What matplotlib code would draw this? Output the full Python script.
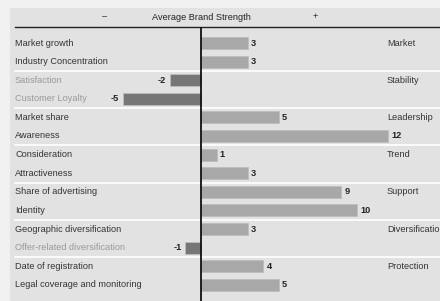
import numpy as np
import matplotlib.pyplot as plt

# data
items = [
    "Market growth", "Industry Concentration",
    "Satisfaction", "Customer Loyalty",
    "Market share", "Awareness",
    "Consideration", "Attractiveness",
    "Share of advertising", "Identity",
    "Geographic diversification", "Offer-related diversification",
    "Date of registration", "Legal coverage and monitoring",
]
values = [3, 3, -2, -5, 5, 12, 1, 3, 9, 10, 3, -1, 4, 5]
groups = ["Market", "Stability", "Leadership", "Trend",
          "Support", "Diversification", "Protection"]
group_size = 2

W, H = 440, 301
fig = plt.figure(figsize=(W / 100, H / 100), dpi=100)
fig.patch.set_facecolor("#f0f0f0")

# panel geometry in pixels
px0, py0 = 10, 8
ax = fig.add_axes([px0 / W, 0, 1 - px0 / W, 1 - py0 / H])
ax.set_facecolor("#e2e2e2")
for s in ax.spines.values():
    s.set_visible(False)
ax.set_xticks([])
ax.set_yticks([])

zero_px = 201
unit_px = 15.6
row0_px = 43
row_px = 18.6
ax.set_xlim((px0 - zero_px) / unit_px, (W - zero_px) / unit_px)
ax.set_ylim((H - row0_px) / row_px, (py0 - row0_px) / row_px)

font = "Liberation Sans"
fs = 6.6
y = np.arange(len(items))
vals = np.array(values)

colors = ["#a8a8a8" if v > 0 else "#767676" for v in vals]
ax.barh(y, vals, height=0.64, color=colors, edgecolor="#bdbdbd",
        linewidth=0.6, zorder=2)

for yi, v in zip(y, vals):
    if v > 0:
        ax.text(v + 0.2, yi, str(v), ha="left", va="center", fontsize=fs,
                fontweight="bold", color="#222222", family=font)
    else:
        ax.text(v - 0.25, yi, str(v), ha="right", va="center", fontsize=fs,
                fontweight="bold", color="#222222", family=font)

lab_x = (15 - px0) / (W - px0)
for yi, name, v in zip(y, items, vals):
    ax.text(lab_x, yi, name, transform=ax.get_yaxis_transform(),
            ha="left", va="center", fontsize=fs, family=font,
            color="#999999" if v < 0 else "#333333")

grp_x = (387 - px0) / (W - px0)
for gi, g in enumerate(groups):
    ax.text(grp_x, gi * group_size, g, transform=ax.get_yaxis_transform(),
            ha="left", va="center", fontsize=fs, family=font, color="#333333")

# white separators between groups
for gi in range(1, len(groups)):
    ax.axhline(gi * group_size - 0.5, xmin=lab_x, xmax=1, color="white",
               linewidth=1.2, zorder=1)

# header
head_y = (17 - row0_px) / row_px
line_y = (27 - row0_px) / row_px
ax.text(0, head_y, "Average Brand Strength", ha="center", va="center",
        fontsize=fs, family=font, color="#222222")
ax.text((105 - zero_px) / unit_px, head_y, "\u2013", ha="center", va="center",
        fontsize=fs, family=font, color="#222222")
ax.text((315 - zero_px) / unit_px, head_y, "+", ha="center", va="center",
        fontsize=fs, family=font, color="#222222")
ax.axhline(line_y, xmin=lab_x, xmax=1, color="#222222", linewidth=1.0, zorder=3)
ax.plot([0, 0], [line_y, (H - row0_px) / row_px], color="#111111",
        linewidth=1.3, zorder=3, solid_capstyle="butt")

fig.savefig("out.png", dpi=100, facecolor=fig.get_facecolor())
